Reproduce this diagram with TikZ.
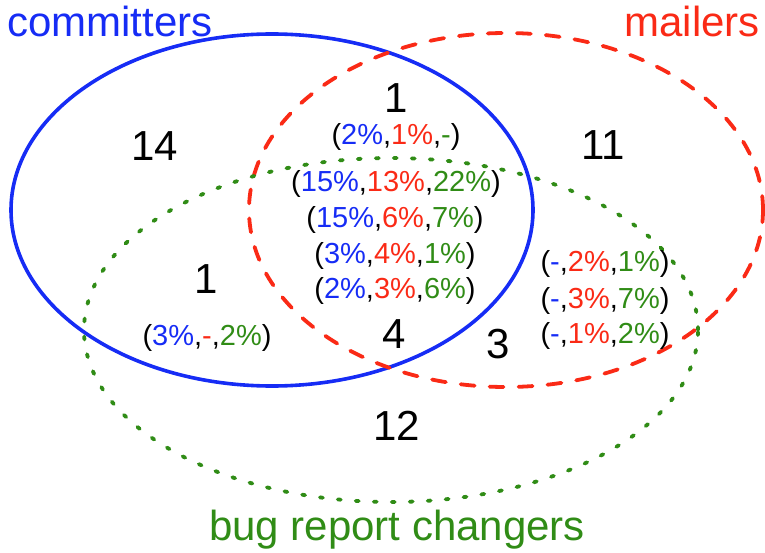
\documentclass[tikz,border=0pt]{standalone}
\usepackage{fontspec}
\setmainfont{Liberation Sans}
\definecolor{cblue}{RGB}{22,44,245}
\definecolor{cred}{RGB}{250,42,22}
\definecolor{cgreen}{RGB}{48,140,22}
\newcommand\blu[1]{\textcolor{cblue}{#1}}
\newcommand\rd[1]{\textcolor{cred}{#1}}
\newcommand\grn[1]{\textcolor{cgreen}{#1}}
\begin{document}
\begin{tikzpicture}[x=1pt,y=-1pt,
  num/.style={font=\fontsize{42}{42}\selectfont, anchor=base, inner sep=0pt},
  pct/.style={font=\fontsize{29}{29}\selectfont, anchor=base, inner sep=0pt},
  setlabel/.style={font=\fontsize{42}{42}\selectfont, inner sep=0pt}]
\useasboundingbox (0,0) rectangle (765,553);
% the three sets
\draw[cblue, line width=3.6pt] (272,210) ellipse [x radius=261pt, y radius=176pt];
\draw[cred, line width=3.8pt, line cap=round, dash pattern=on 14pt off 15pt] (506,210) ellipse [x radius=257pt, y radius=177pt];
\draw[cgreen, line width=3.8pt, line cap=round, dash pattern=on 3pt off 15pt] (391,330) ellipse [x radius=307pt, y radius=172pt];
% set names
\node[setlabel, anchor=base west, text=cblue] (lc) at (7,37) {committers};
\node[setlabel, anchor=base east, text=cred] (lm) at (760,37) {mailers};
\node[setlabel, anchor=base, text=cgreen] (lb) at (397,540) {bug report changers};
% region counts
\node[num] (n14) at (155,161) {14};
\node[num] (n1a) at (396,113) {1};
\node[num] (n11) at (603,160) {11};
\node[num] (n1b) at (206,293) {1};
\node[num] (n4) at (394,348) {4};
\node[num] (n3) at (498,358) {3};
\node[num] (n12) at (397,440) {12};
% percentages
\node[pct] (p1) at (396,145) {(\blu{2\%},\rd{1\%},\grn{-})};
\node[pct] (p2) at (396,192) {(\blu{15\%},\rd{13\%},\grn{22\%})};
\node[pct] (p3) at (395,228) {(\blu{15\%},\rd{6\%},\grn{7\%})};
\node[pct] (p4) at (395,263) {(\blu{3\%},\rd{4\%},\grn{1\%})};
\node[pct] (p5) at (395,298) {(\blu{2\%},\rd{3\%},\grn{6\%})};
\node[pct] (p6) at (207,345) {(\blu{3\%},\rd{-},\grn{2\%})};
\node[pct] (p7) at (605,272) {(\blu{-},\rd{2\%},\grn{1\%})};
\node[pct] (p8) at (605,308) {(\blu{-},\rd{3\%},\grn{7\%})};
\node[pct] (p9) at (605,343) {(\blu{-},\rd{1\%},\grn{2\%})};
\end{tikzpicture}
\end{document}
